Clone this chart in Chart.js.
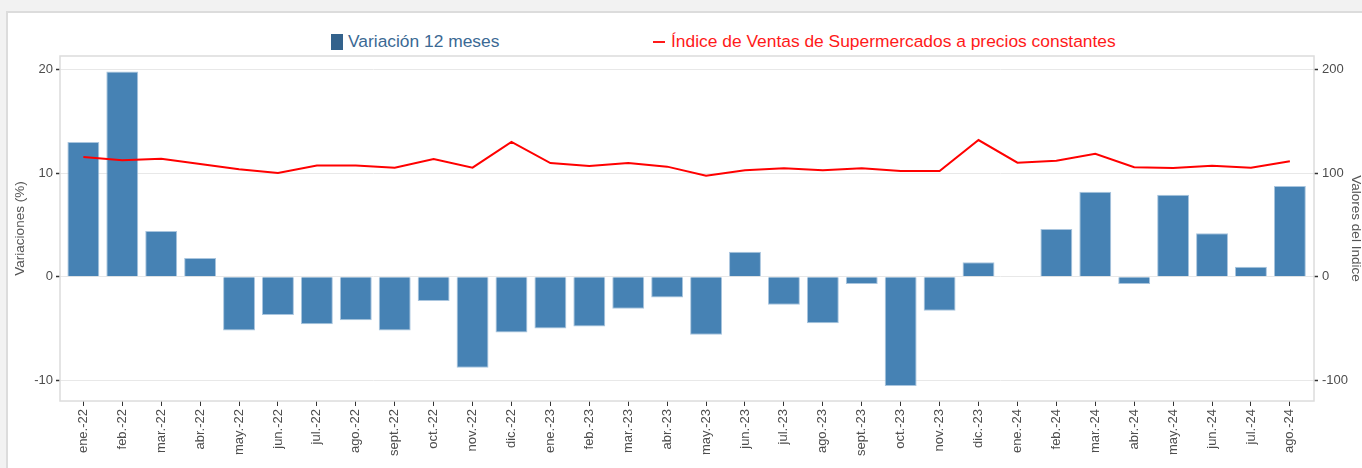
<!DOCTYPE html>
<html>
<head>
<meta charset="utf-8">
<script src="https://cdn.jsdelivr.net/npm/chart.js@4.4.0/dist/chart.umd.min.js"></script>
<style>
  html, body { margin: 0; padding: 0; background: #f2f2f2; }
  #wrap { position: relative; width: 1362px; height: 468px; overflow: hidden; font-family: "Liberation Sans", Arial, sans-serif; }
  #panel { position: absolute; left: 6px; top: 11px; width: 1400px; height: 500px; background: #fff; border: 2px solid #dcdcdc; }
  #salesChart { position: absolute; left: 0; top: 0; }
  .lg { position: absolute; font-size: 17.4px; line-height: 17px; white-space: nowrap; }
</style>
</head>
<body>
<div id="wrap">
  <div id="panel"></div>
  <div class="lg" style="left:331px; top:34px; width:12px; height:16px; background:#33628c;"></div>
  <div class="lg" style="left:348px; top:33px; color:#3b6994;">Variación 12 meses</div>
  <div class="lg" style="left:653px; top:41px; width:12px; height:2px; background:#ff1a1a;"></div>
  <div class="lg" style="left:671px; top:33px; color:#ff1a1a;">Índice de Ventas de Supermercados a precios constantes</div>
  <canvas id="salesChart" width="1362" height="468"></canvas>
</div>
<script>
// months on the x axis
const months = [
  'ene.-22', 'feb.-22', 'mar.-22', 'abr.-22', 'may.-22', 'jun.-22', 'jul.-22', 'ago.-22',
  'sept.-22', 'oct.-22', 'nov.-22', 'dic.-22', 'ene.-23', 'feb.-23', 'mar.-23', 'abr.-23',
  'may.-23', 'jun.-23', 'jul.-23', 'ago.-23', 'sept.-23', 'oct.-23', 'nov.-23', 'dic.-23',
  'ene.-24', 'feb.-24', 'mar.-24', 'abr.-24', 'may.-24', 'jun.-24', 'jul.-24', 'ago.-24'
];

// 12 month variation (%), left axis
const variation = [
  13.0, 19.8, 4.4, 1.8, -5.2, -3.7, -4.6, -4.2,
  -5.2, -2.35, -8.8, -5.4, -5.0, -4.8, -3.1, -2.0,
  -5.6, 2.4, -2.7, -4.5, -0.7, -10.55, -3.3, 1.4,
  0.0, 4.6, 8.2, -0.7, 7.9, 4.2, 0.95, 8.75
];

// sales index at constant prices, right axis
const salesIndex = [
  115.5, 112.3, 113.9, 108.8, 103.7, 100.1, 107.2, 107.2,
  105.2, 113.6, 105.2, 130.0, 109.7, 106.9, 109.7, 106.2,
  97.5, 102.7, 104.6, 102.7, 104.6, 102.0, 102.0, 131.9,
  110.0, 112.0, 118.7, 105.6, 104.9, 107.1, 105.2, 111.4
];

const leftTicks = [-10, 0, 10, 20];
const rightTicks = [-100, 0, 100, 200];

const tickFont = { family: "'Liberation Sans', Arial, sans-serif", size: 13 };
const titleFont = { family: "'Liberation Sans', Arial, sans-serif", size: 13.5, lineHeight: 1 };

// thin border round the plot panel
const panelBorder = {
  id: 'panelBorder',
  beforeDatasetsDraw(chart) {
    const { ctx, chartArea: a } = chart;
    ctx.save();
    ctx.strokeStyle = '#dcdcdc';
    ctx.lineWidth = 1.5;
    ctx.strokeRect(a.left, a.top, a.right - a.left, a.bottom - a.top);
    ctx.restore();
  }
};

const ctx = document.getElementById('salesChart').getContext('2d');

new Chart(ctx, {
  type: 'bar',
  data: {
    datasets: [
      {
        type: 'line',
        label: 'Índice de Ventas de Supermercados a precios constantes',
        data: salesIndex.map((v, i) => ({ x: i, y: v })),
        yAxisID: 'y2',
        borderColor: '#ff0000',
        borderWidth: 2,
        pointRadius: 0,
        tension: 0,
        order: 1
      },
      {
        label: 'Variación 12 meses',
        data: variation.map((v, i) => ({ x: i, y: v })),
        yAxisID: 'y',
        backgroundColor: '#4682b4',
        borderColor: '#a9c5de',
        borderWidth: 1,
        barPercentage: 0.82,
        categoryPercentage: 1,
        order: 2
      }
    ]
  },
  options: {
    responsive: false,
    animation: false,
    layout: { padding: { top: 56, left: 0, right: 0, bottom: 0 } },
    plugins: {
      legend: { display: false },
      tooltip: { enabled: false }
    },
    scales: {
      x: {
        type: 'linear',
        min: -0.6,
        max: 31.62,
        offset: false,
        afterBuildTicks: s => { s.ticks = months.map((_, i) => ({ value: i })); },
        afterFit: s => { s.height = 67; },
        border: { display: false },
        grid: { offset: false, drawOnChartArea: false, drawTicks: true, tickLength: 5, tickColor: '#333' },
        ticks: {
          autoSkip: false,
          maxRotation: 90,
          minRotation: 90,
          padding: 3,
          color: '#4d4d4d',
          font: tickFont,
          callback: v => months[v]
        }
      },
      y: {
        position: 'left',
        min: -12.0,
        max: 21.3,
        afterBuildTicks: s => { s.ticks = leftTicks.map(v => ({ value: v })); },
        afterFit: s => { s.width = 60; },
        border: { display: false },
        grid: { color: '#e8e8e8', tickColor: '#333', tickLength: 4, tickWidth: 1.5 },
        ticks: { padding: 3, color: '#4d4d4d', font: tickFont },
        title: { display: true, text: 'Variaciones (%)', color: '#555', font: titleFont, padding: { top: 14, bottom: 0 } }
      },
      y2: {
        position: 'right',
        min: -120,
        max: 213,
        afterBuildTicks: s => { s.ticks = rightTicks.map(v => ({ value: v })); },
        afterFit: s => { s.width = 48; },
        border: { display: false },
        grid: { drawOnChartArea: false, tickColor: '#333', tickLength: 4, tickWidth: 1.5 },
        ticks: { padding: 4, color: '#4d4d4d', font: tickFont },
        title: { display: true, text: 'Valores del Indice', color: '#555', font: titleFont, padding: { top: 0, bottom: 0 } }
      }
    }
  },
  plugins: [panelBorder]
});
</script>
</body>
</html>
